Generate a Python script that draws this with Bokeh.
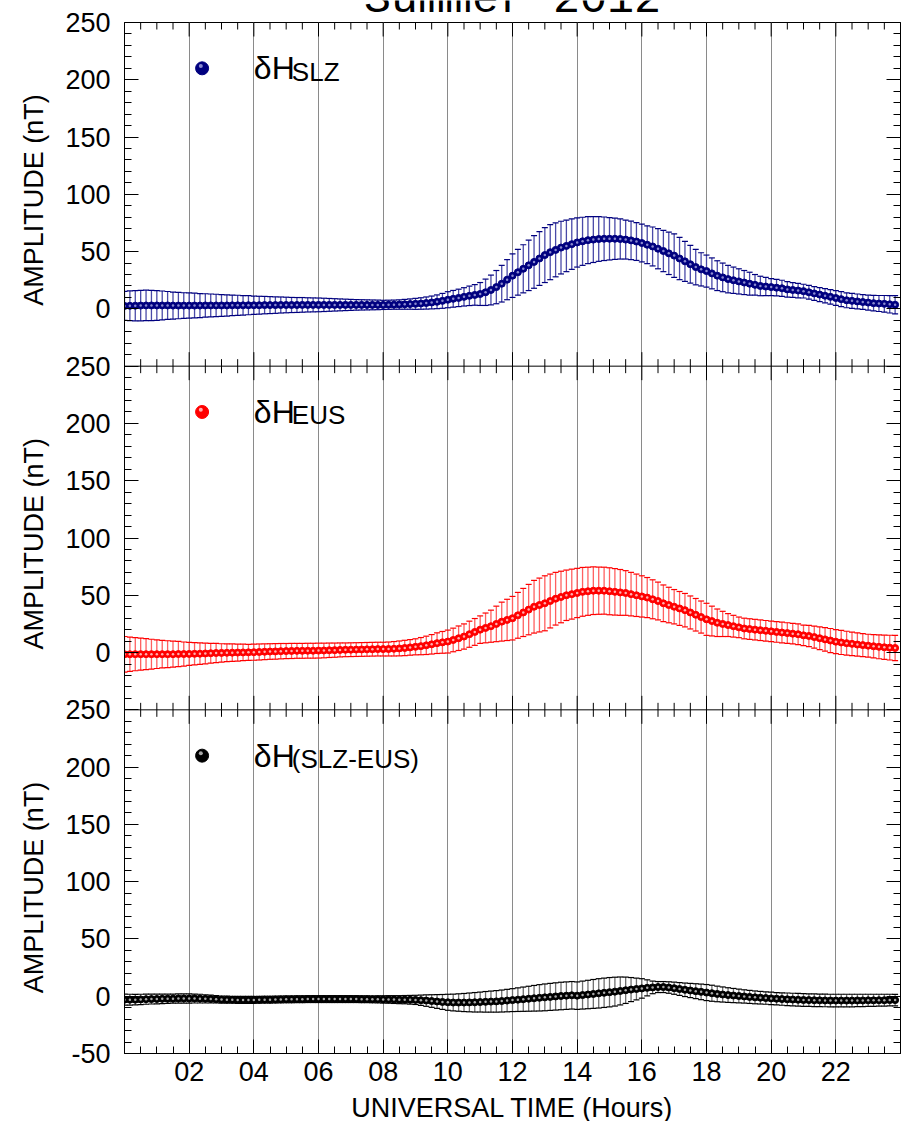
import numpy as np
from bokeh.plotting import figure
from bokeh.layouts import column, row
from bokeh.models import Range1d, LinearAxis, FixedTicker, Span, ColumnDataSource, Grid
from bokeh.core.properties import value
from bokeh.embed import file_html
from bokeh.resources import INLINE

# ---------------- data (10-minute means and error half-widths, nT) ----------------
hours = np.arange(144) / 6.0

slz_mean = [
    2.6, 2.7, 2.8, 2.9, 3.0, 3.0,  3.0, 3.0, 3.0, 2.9, 2.9, 2.9,
    2.9, 2.9, 2.9, 3.0, 3.0, 3.0,  3.0, 3.0, 3.1, 3.1, 3.1, 3.2,
    3.2, 3.2, 3.3, 3.3, 3.3, 3.4,  3.4, 3.4, 3.4, 3.5, 3.5, 3.5,
    3.5, 3.5, 3.5, 3.5, 3.5, 3.5,  3.5, 3.5, 3.5, 3.5, 3.5, 3.5,
    3.5, 3.6, 3.7, 3.8, 4.0, 4.2,  4.4, 4.7, 5.1, 5.6, 6.2, 7.0,
    8.0, 8.8, 9.6, 10.5, 11.4, 12.2,  13.0, 14.5, 16.5, 19.0, 22.0, 25.5,
    29.0, 32.0, 35.0, 38.0, 41.0, 44.0,  47.0, 49.5, 51.5, 53.5, 55.0, 56.5,
    58.0, 59.0, 60.0, 60.5, 61.0, 61.2,  61.2, 61.2, 61.0, 60.5, 59.8, 58.8,
    57.5, 56.0, 54.5, 52.5, 50.5, 48.5,  46.5, 44.0, 41.5, 39.0, 36.5, 34.5,
    33.0, 31.0, 29.0, 27.5, 26.0, 25.0,  24.0, 23.0, 22.0, 21.0, 20.0, 19.5,
    19.0, 18.5, 18.0, 17.0, 16.5, 16.0,  15.5, 14.5, 13.5, 12.5, 11.5, 10.5,
    9.5, 8.5, 7.5, 7.0, 6.5, 6.0,  5.5, 5.0, 4.7, 4.4, 4.0, 3.6,
]
slz_err = [
    12.7, 13.0, 13.2, 13.3, 13.3, 13.2,  13.0, 12.6, 12.2, 11.8, 11.5, 11.2,
    11.0, 10.8, 10.5, 10.2, 10.0, 9.8,  9.5, 9.3, 9.0, 8.8, 8.5, 8.3,
    8.0, 7.8, 7.6, 7.4, 7.2, 7.0,  6.8, 6.6, 6.5, 6.4, 6.2, 6.1,
    6.0, 5.8, 5.6, 5.4, 5.2, 5.0,  4.8, 4.6, 4.5, 4.4, 4.3, 4.2,
    4.0, 4.0, 4.0, 4.1, 4.3, 4.5,  4.8, 5.0, 5.3, 5.6, 6.0, 6.5,
    7.0, 7.3, 7.6, 8.0, 8.5, 9.0,  10.0, 11.5, 13.0, 14.5, 16.0, 17.5,
    19.0, 20.0, 21.0, 22.0, 23.0, 23.5,  24.0, 24.0, 23.5, 23.0, 22.5, 22.0,
    21.5, 21.0, 20.5, 20.0, 19.5, 19.0,  18.5, 18.0, 17.5, 17.0, 16.8, 16.5,
    16.5, 16.5, 17.0, 17.5, 18.0, 18.5,  19.0, 18.5, 17.5, 16.5, 15.5, 14.5,
    14.0, 13.5, 13.0, 12.5, 12.0, 11.5,  11.0, 10.5, 10.0, 9.0, 8.5, 8.0,
    7.5, 7.2, 7.0, 6.8, 6.5, 6.3,  6.0, 6.0, 6.0, 6.1, 6.2, 6.3,
    6.5, 6.5, 6.5, 6.5, 6.5, 6.5,  6.5, 6.8, 7.0, 7.3, 7.6, 8.0,
]

eus_mean = [
    -1.5, -1.5, -1.4, -1.4, -1.4, -1.4,  -1.4, -1.4, -1.4, -1.4, -1.3, -1.3,
    -1.2, -1.1, -1.0, -0.8, -0.6, -0.4,  -0.3, -0.2, -0.1, 0.0, 0.1, 0.2,
    0.3, 0.5, 0.7, 0.9, 1.0, 1.2,  1.3, 1.4, 1.5, 1.5, 1.6, 1.6,
    1.7, 1.8, 2.0, 2.1, 2.3, 2.4,  2.5, 2.6, 2.7, 2.8, 2.9, 3.0,
    3.0, 3.1, 3.3, 3.6, 4.0, 4.5,  5.0, 5.6, 6.3, 7.2, 8.2, 8.9,
    9.6, 11.0, 12.5, 14.0, 16.0, 18.0,  20.0, 21.5, 23.0, 25.0, 27.0, 28.5,
    30.0, 32.5, 35.0, 37.5, 40.0, 41.5,  43.0, 45.0, 47.0, 48.5, 50.0, 51.0,
    52.0, 53.0, 53.5, 54.0, 54.0, 54.0,  53.5, 53.0, 52.5, 52.0, 51.0, 50.0,
    49.0, 48.0, 46.5, 45.0, 43.0, 41.5,  40.0, 38.5, 37.0, 35.0, 33.0, 31.0,
    29.0, 27.5, 26.0, 25.0, 24.0, 23.0,  22.0, 21.0, 20.5, 20.0, 19.5, 19.0,
    18.5, 18.0, 17.5, 17.0, 16.5, 16.0,  15.0, 14.5, 13.5, 12.5, 11.5, 10.5,
    9.5, 8.8, 8.2, 7.6, 7.0, 6.5,  6.0, 5.5, 5.0, 4.6, 4.3, 4.0,
]
eus_err = [
    15.5, 15.0, 14.5, 14.0, 13.5, 13.0,  12.5, 12.0, 11.7, 11.3, 11.0, 10.5,
    10.0, 9.7, 9.4, 9.0, 8.7, 8.4,  8.0, 7.8, 7.6, 7.4, 7.2, 7.0,
    7.0, 7.0, 6.9, 6.8, 6.8, 6.7,  6.6, 6.6, 6.5, 6.5, 6.5, 6.5,
    6.5, 6.4, 6.3, 6.2, 6.1, 6.0,  6.0, 6.0, 6.0, 6.0, 6.0, 6.0,
    6.0, 6.1, 6.3, 6.5, 6.7, 6.8,  7.0, 7.5, 8.0, 8.5, 9.0, 9.5,
    10.0, 10.3, 10.7, 11.0, 11.4, 11.7,  12.0, 13.0, 14.0, 15.5, 17.0, 18.0,
    19.0, 20.0, 21.0, 22.0, 23.0, 23.5,  24.0, 23.5, 23.0, 22.5, 22.0, 21.8,
    21.5, 21.3, 21.0, 20.8, 20.6, 20.5,  20.5, 20.3, 20.0, 19.5, 19.0, 18.5,
    18.0, 17.5, 17.0, 16.5, 16.0, 15.5,  15.0, 14.8, 14.6, 14.4, 14.2, 14.0,
    14.0, 13.0, 12.0, 11.0, 10.0, 9.5,  9.0, 9.0, 9.0, 9.0, 9.0, 9.0,
    9.0, 9.0, 9.0, 9.0, 9.0, 9.0,  9.0, 9.3, 9.6, 9.9, 10.2, 10.5,
    10.5, 10.5, 10.4, 10.3, 10.2, 10.1,  10.0, 10.2, 10.4, 10.6, 10.8, 11.0,
]

dif_mean = [
    -3.0, -3.0, -3.0, -2.8, -2.6, -2.5,  -2.4, -2.3, -2.2, -2.1, -2.0, -2.0,
    -2.0, -2.0, -2.1, -2.3, -2.5, -2.7,  -2.9, -3.0, -3.1, -3.2, -3.2, -3.2,
    -3.2, -3.1, -3.0, -3.0, -2.9, -2.8,  -2.7, -2.7, -2.6, -2.6, -2.5, -2.5,
    -2.5, -2.5, -2.5, -2.5, -2.5, -2.5,  -2.5, -2.5, -2.6, -2.6, -2.7, -2.7,
    -2.8, -2.8, -2.9, -3.0, -3.0, -3.1,  -3.2, -3.5, -3.8, -4.2, -4.6, -5.0,
    -5.3, -5.5, -5.5, -5.5, -5.4, -5.3,  -5.1, -4.9, -4.7, -4.5, -4.2, -3.8,
    -3.4, -3.0, -2.6, -2.2, -1.8, -1.4,  -1.0, -0.6, -0.2, 0.2, 0.5, 0.8,
    0.5, 1.0, 1.5, 2.0, 2.5, 3.0,  3.5, 4.0, 4.6, 5.2, 5.8, 6.3,
    6.8, 7.3, 7.7, 8.0, 8.0, 7.6,  7.0, 6.3, 5.6, 5.0, 4.4, 3.8,
    3.2, 2.6, 2.0, 1.5, 1.0, 0.6,  0.2, -0.2, -0.6, -1.0, -1.3, -1.6,
    -1.9, -2.2, -2.5, -2.7, -2.9, -3.1,  -3.3, -3.4, -3.5, -3.6, -3.7, -3.8,
    -3.8, -3.8, -3.8, -3.8, -3.7, -3.7,  -3.6, -3.6, -3.5, -3.5, -3.4, -3.4,
]
dif_err = [
    4.8, 4.7, 4.6, 4.5, 4.4, 4.3,  4.2, 4.1, 4.0, 4.0, 4.0, 4.0,
    4.0, 3.9, 3.8, 3.6, 3.4, 3.2,  3.1, 3.0, 3.0, 3.0, 3.0, 3.0,
    3.0, 3.0, 3.0, 3.0, 3.0, 3.0,  3.0, 3.0, 3.0, 3.0, 3.0, 3.0,
    3.0, 3.0, 3.0, 3.0, 3.0, 3.0,  3.0, 3.0, 3.0, 3.0, 3.0, 3.1,
    3.2, 3.3, 3.4, 3.5, 3.6, 3.8,  4.0, 4.5, 5.0, 5.5, 6.0, 6.5,
    7.0, 7.3, 7.6, 7.9, 8.2, 8.5,  8.7, 9.0, 9.2, 9.4, 9.6, 9.8,
    10.0, 10.3, 10.6, 10.9, 11.2, 11.5,  11.7, 11.8, 11.9, 12.0, 12.0, 12.0,
    12.0, 12.2, 12.4, 12.6, 12.8, 12.8,  12.8, 12.6, 12.2, 11.5, 10.5, 9.5,
    8.5, 7.0, 5.5, 4.8, 4.8, 5.0,  5.3, 5.6, 5.9, 6.2, 6.5, 6.8,
    7.0, 7.0, 6.8, 6.6, 6.4, 6.2,  6.0, 5.8, 5.7, 5.6, 5.5, 5.4,
    5.4, 5.4, 5.4, 5.5, 5.5, 5.5,  5.5, 5.5, 5.5, 5.5, 5.5, 5.5,
    5.5, 5.5, 5.5, 5.5, 5.4, 5.4,  5.3, 5.3, 5.2, 5.2, 5.1, 5.0,
]

panel_names = ["slz", "eus", "dif"]
legend_subs = ["SLZ", "EUS", "(SLZ-EUS)"]
y_ticks_panel = [-50, 0, 50, 100, 150, 200, 250]
x_ticks = [2, 4, 6, 8, 10, 12, 14, 16, 18, 20, 22]
x_tick_labels = ["02", "04", "06", "08", "10", "12", "14", "16", "18", "20", "22"]
title_text = "Summer 2012"
y_label = "AMPLITUDE (nT)"
x_label = "UNIVERSAL TIME (Hours)"

FONT = "Liberation Sans"
W, H = 906, 1121
TOP = 22            # page y of the frame top
FRAME_H = 1031      # frame height (page y 22 .. 1053)
TICKROOM = 41       # room for the x tick labels under the frame
XLAB_H = H - TOP - FRAME_H - TICKROOM
LW = 118            # left strip: y labels and y tick labels
px_per_unit = FRAME_H / 900.0

def bare(fig):
    fig.outline_line_color = None
    fig.background_fill_color = "white"
    fig.border_fill_color = "white"
    fig.xgrid.visible = False
    fig.ygrid.visible = False
    return fig

def strip(w, h, xr, yr, **kw):
    return bare(figure(width=w, height=h, x_range=xr, y_range=yr, output_backend="svg",
                       toolbar_location=None, x_axis_type=None, y_axis_type=None,
                       min_border_top=0, min_border_bottom=0, **kw))

offsets = {"slz": 650, "eus": 350, "dif": 50}

g_major, g_labels = [], {}
for nm in panel_names:
    off = offsets[nm]
    for v in y_ticks_panel:
        g = v + off
        g_major.append(g)
        if v == -50 and nm != "dif":
            continue
        g_labels[g] = str(v)
g_major = sorted(set(g_major))
g_minor = [g for g in range(0, 901, 10) if g % 50 != 0]
x_minor = [m / 2 for m in range(1, 48) if (m / 2) not in x_ticks]

# ---------------- title strip (text cut by the top of the page, as in the original) ----------------
tf = strip(W - LW, TOP, Range1d(0, 24), Range1d(0, 1), min_border_left=124 - LW, min_border_right=6)
tf.text(x=[12], y=[0.98], text=[title_text], text_font=value("Liberation Mono"),
        text_font_size="45px", text_align="center", text_baseline="middle", text_color="black")

# ---------------- x label strip ----------------
bf = strip(W - LW, XLAB_H, Range1d(0, 24), Range1d(0, XLAB_H), min_border_left=124 - LW,
           min_border_right=6)
bf.text(x=[12], y=[XLAB_H - 13], text=[x_label], text_font=value(FONT), text_font_size="27px",
        text_align="center", text_baseline="middle", text_color="black")

# ---------------- main figure ----------------
p = figure(width=W - LW, height=FRAME_H + TICKROOM, x_range=Range1d(0, 24), y_range=Range1d(0, 900),
           output_backend="svg", toolbar_location=None,
           min_border_left=124 - LW, min_border_right=6, min_border_top=0, min_border_bottom=TICKROOM,
           x_axis_type=None, y_axis_type=None)
p.outline_line_color = "black"
p.outline_line_width = 1
p.background_fill_color = "white"
p.border_fill_color = "white"
for nm, off in offsets.items():
    p.extra_y_ranges[nm] = Range1d(-off, 900 - off)

def style_ticks(ax, major_in=14, minor_in=7):
    ax.major_tick_in = major_in
    ax.major_tick_out = 0
    ax.minor_tick_in = minor_in
    ax.minor_tick_out = 0
    ax.axis_line_color = "black"
    ax.major_tick_line_color = "black"
    ax.minor_tick_line_color = "black"

for side in ("left", "right"):
    ax = LinearAxis(ticker=FixedTicker(ticks=g_major, minor_ticks=g_minor))
    ax.major_label_overrides = {g: "" for g in g_major}
    ax.major_label_standoff = 0
    style_ticks(ax)
    p.add_layout(ax, side)

bottom = LinearAxis(ticker=FixedTicker(ticks=x_ticks, minor_ticks=x_minor))
bottom.major_label_overrides = dict(zip(x_ticks, x_tick_labels))
bottom.major_label_text_font = FONT
bottom.major_label_text_font_size = "27px"
bottom.major_label_text_color = "black"
bottom.major_label_standoff = 8
style_ticks(bottom)
p.add_layout(bottom, "below")

grid = Grid(dimension=0, ticker=FixedTicker(ticks=x_ticks))
grid.grid_line_color = "#8a8a8a"
grid.grid_line_width = 1
p.add_layout(grid)

maj_len = 14 / px_per_unit
min_len = 7 / px_per_unit
for b, up in ((300, True), (600, True), (900, False)):
    if b != 900:
        p.add_layout(Span(location=b, dimension="width", line_color="black", line_width=1))
    top_m = b + maj_len if up else b
    top_n = b + min_len if up else b
    p.segment(x0=x_ticks, x1=x_ticks, y0=[b - maj_len] * len(x_ticks), y1=[top_m] * len(x_ticks),
              line_color="black", line_width=1)
    p.segment(x0=x_minor, x1=x_minor, y0=[b - min_len] * len(x_minor), y1=[top_n] * len(x_minor),
              line_color="black", line_width=1)

series = [
    ("slz", slz_mean, slz_err, "#00007f", "#4a4aa8", "#8a8ad0"),
    ("eus", eus_mean, eus_err, "#ff0000", "#ff6060", "#ffb0b0"),
    ("dif", dif_mean, dif_err, "#000000", "#707070", "#a8a8a8"),
]
for (nm, mean, err, col, lcol, hcol), sub in zip(series, legend_subs):
    mean = np.array(mean, dtype=float)
    err = np.array(err, dtype=float)
    src = ColumnDataSource(dict(x=hours, y=mean, lo=mean - err, hi=mean + err))
    p.segment(x0="x", x1="x", y0="lo", y1="hi", source=src, line_color=lcol, line_width=1.3,
              y_range_name=nm)
    p.scatter(x="x", y="hi", source=src, marker="dash", size=6, line_color=col, line_width=1.2,
              y_range_name=nm)
    p.scatter(x="x", y="lo", source=src, marker="dash", size=6, line_color=col, line_width=1.2,
              y_range_name=nm)
    p.scatter(x="x", y="y", source=src, marker="circle", size=7, fill_color=col,
              line_color=col, line_width=1, y_range_name=nm)
    p.scatter(x="x", y="y", source=src, marker="circle", size=2.5, fill_color=hcol,
              line_color=None, y_range_name=nm)

    p.scatter(x=[2.4], y=[210], marker="circle", size=13, fill_color=col, line_color=col,
              y_range_name=nm)
    p.scatter(x=[2.36], y=[212], marker="circle", size=4, fill_color=hcol, line_color=None,
              y_range_name=nm)
    p.text(x=[4.0], y=[210], text=["δH"], text_font=value(FONT), text_font_size="32px",
           text_baseline="middle", text_color="black", y_range_name=nm)
    p.text(x=[4.0], y=[207], text=[sub], x_offset=38, text_font=value(FONT), text_font_size="26px",
           text_baseline="middle", text_color="black", y_range_name=nm)

# ---------------- left strip: y tick labels and panel y labels ----------------
lf = strip(LW, H, Range1d(0, LW),
           Range1d(-(H - TOP - FRAME_H) / px_per_unit, 900 + TOP / px_per_unit),
           min_border_left=0, min_border_right=0)
for nm in panel_names:
    lf.extra_y_ranges[nm] = Range1d(lf.y_range.start - offsets[nm], lf.y_range.end - offsets[nm])
lab_g = sorted(g_labels)
lf.text(x=[LW - 8] * len(lab_g), y=lab_g, text=[g_labels[g] for g in lab_g],
        text_font=value(FONT), text_font_size="27px", text_align="right",
        text_baseline="middle", text_color="black")
for nm in panel_names:
    lf.text(x=[33], y=[95], text=[y_label], angle=np.pi / 2, text_font=value(FONT),
            text_font_size="27px", text_align="center", text_baseline="middle",
            text_color="black", y_range_name=nm)

layout = row(lf, column(tf, p, bf, spacing=0), spacing=0)
open("out.html", "w").write(file_html(layout, INLINE))
